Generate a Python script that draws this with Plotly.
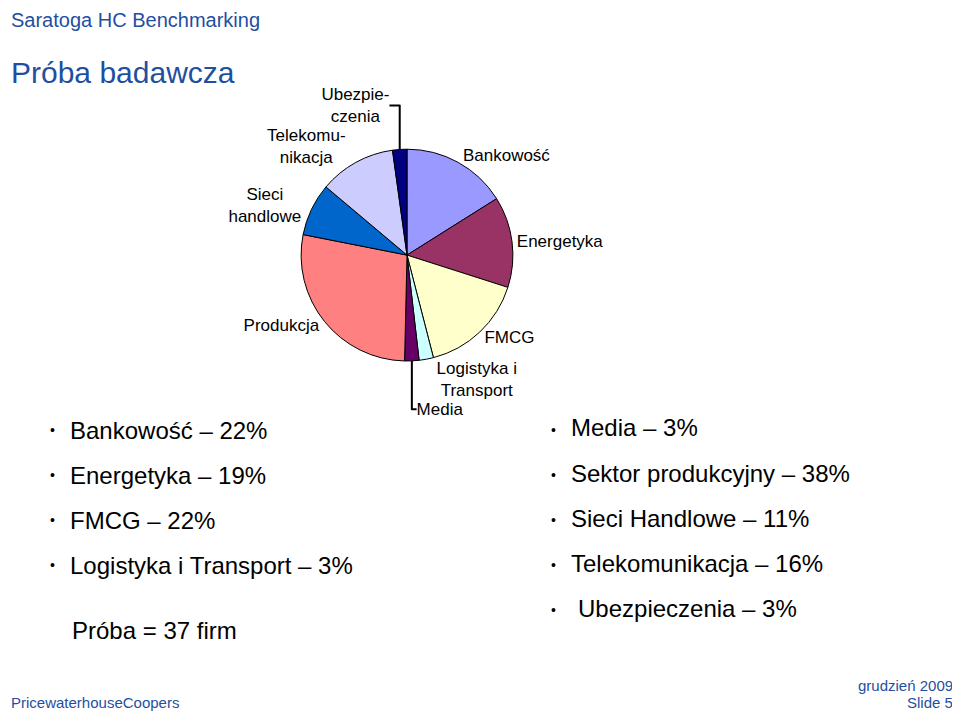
import plotly.graph_objects as go

sectors = ["Bankowość", "Energetyka", "FMCG", "Logistyka i<br>Transport", "Media",
           "Produkcja", "Sieci<br>handlowe", "Telekomu-<br>nikacja", "Ubezpie-<br>czenia"]
shares = [22, 19, 22, 3, 3, 38, 11, 16, 3]
colors = ["#9999FF", "#993366", "#FFFFCC", "#CCFFFF", "#660066",
          "#FF8080", "#0066CC", "#CCCCFF", "#000080"]

left_items = ["Bankowość – 22%", "Energetyka – 19%", "FMCG – 22%", "Logistyka i Transport – 3%"]
right_items = ["Media – 3%", "Sektor produkcyjny – 38%", "Sieci Handlowe – 11%",
               "Telekomunikacja – 16%", "Ubezpieczenia – 3%"]

blue = "#1F4FA0"
W, H, OFF = 950, 706, 8

fig = go.Figure(go.Pie(
    labels=sectors, values=shares, sort=False, direction="clockwise", rotation=0,
    marker=dict(colors=colors, line=dict(color="black", width=1)),
    textinfo="label", textposition="outside", textfont=dict(size=17, color="black"),
    domain=dict(x=[0.29, 0.55], y=[0.5, 0.8]), showlegend=False,
))

ann = [
    dict(text="Saratoga HC Benchmarking", x=9, y=20, font=dict(size=20, color=blue)),
    dict(text="Próba badawcza", x=9, y=72, font=dict(size=30, color=blue)),
    dict(text="Próba = 37 firm", x=70, y=630, font=dict(size=24, color="black")),
    dict(text="PricewaterhouseCoopers", x=9, y=702, font=dict(size=15, color=blue)),
    dict(text="grudzień 2009", x=955, y=685, font=dict(size=15, color=blue), xanchor="right"),
    dict(text="Slide 5", x=955, y=702, font=dict(size=15, color=blue), xanchor="right"),
]
for i, t in enumerate(left_items):
    ann.append(dict(text="•", x=48, y=430 + 45 * i, font=dict(size=14, color="black")))
    ann.append(dict(text=t, x=68, y=430 + 45 * i, font=dict(size=24, color="black")))
for i, t in enumerate(right_items):
    xo = 576 if i == 4 else 569
    ann.append(dict(text="•", x=549, y=430 + 45 * i, font=dict(size=14, color="black")))
    ann.append(dict(text=t, x=xo, y=428 + 45 * i, font=dict(size=24, color="black")))

for a in ann:
    a.setdefault("xanchor", "left")
    a.update(x=(a["x"] - OFF) / W, y=1 - (a["y"] - OFF) / H,
             xref="paper", yref="paper", yanchor="middle", showarrow=False,
             font=dict(family="Liberation Sans, Arial", **a["font"]))

fig.update_layout(
    width=W, height=H, margin=dict(l=0, r=0, t=0, b=0),
    paper_bgcolor="white", plot_bgcolor="white",
    annotations=ann, font=dict(family="Liberation Sans, Arial"),
)
fig.write_html("out.html")
